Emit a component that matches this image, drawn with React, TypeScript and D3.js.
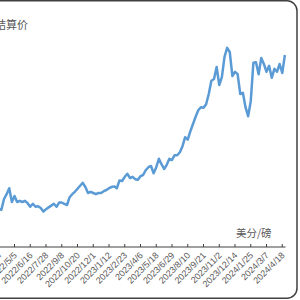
import * as d3 from 'd3';
import React, {useRef, useEffect} from 'react';

// weekly settlement prices (cents / lb)
const dates = [
  "2022-03-24","2022-03-31","2022-04-07","2022-04-14","2022-04-21","2022-04-28","2022-05-05","2022-05-12","2022-05-19","2022-05-26",
  "2022-06-02","2022-06-09","2022-06-16","2022-06-23","2022-06-30","2022-07-07","2022-07-14","2022-07-21","2022-07-28","2022-08-04",
  "2022-08-11","2022-08-18","2022-08-25","2022-09-01","2022-09-08","2022-09-15","2022-09-22","2022-09-29","2022-10-06","2022-10-13",
  "2022-10-20","2022-10-27","2022-11-03","2022-11-10","2022-11-17","2022-11-24","2022-12-01","2022-12-08","2022-12-15","2022-12-22",
  "2022-12-29","2023-01-05","2023-01-12","2023-01-19","2023-01-26","2023-02-02","2023-02-09","2023-02-16","2023-02-23","2023-03-02",
  "2023-03-09","2023-03-16","2023-03-23","2023-03-30","2023-04-06","2023-04-13","2023-04-20","2023-04-27","2023-05-04","2023-05-11",
  "2023-05-18","2023-05-25","2023-06-01","2023-06-08","2023-06-15","2023-06-22","2023-06-29","2023-07-06","2023-07-13","2023-07-20",
  "2023-07-27","2023-08-03","2023-08-10","2023-08-17","2023-08-24","2023-08-31","2023-09-07","2023-09-14","2023-09-21","2023-09-28",
  "2023-10-05","2023-10-12","2023-10-19","2023-10-26","2023-11-02","2023-11-09","2023-11-16","2023-11-23","2023-11-30","2023-12-07",
  "2023-12-14","2023-12-21","2023-12-28","2024-01-04","2024-01-11","2024-01-18","2024-01-25","2024-02-01","2024-02-08","2024-02-15",
  "2024-02-22","2024-02-29","2024-03-07","2024-03-14","2024-03-21","2024-03-28","2024-04-04","2024-04-11","2024-04-18","2024-04-25"
];

const prices = [
  163, 162, 180, 188, 198, 175, 185, 175, 177, 175,
  177, 173, 167, 172, 167, 168, 165, 159, 163, 166,
  169, 172, 167, 174, 174, 172, 170, 183, 188, 192,
  197, 202, 207, 200, 190, 192, 190, 188, 190, 190,
  193, 195, 198, 200, 201, 198, 211, 210, 217, 222,
  215, 217, 213, 212, 218, 220, 228, 233, 235, 223,
  233, 247, 238, 230, 237, 247, 245, 253, 253, 258,
  268, 283, 279, 293, 305, 317, 328, 333, 332, 338,
  355, 377, 380, 400, 370, 383, 417, 432, 425, 385,
  392, 388, 355, 357, 333, 318, 343, 407, 408, 388,
  415, 405, 392, 402, 382, 397, 392, 405, 390, 420
];

const tickDates = [
  "2022-03-24","2022-05-05","2022-06-16","2022-07-28","2022-09-08","2022-10-20","2022-12-01",
  "2023-01-12","2023-02-23","2023-04-06","2023-05-18","2023-06-29","2023-08-10","2023-09-21",
  "2023-11-02","2023-12-14","2024-01-25","2024-03-07","2024-04-18"
];
const tickLabels = [
  "2022/3/24","2022/5/5","2022/6/16","2022/7/28","2022/9/8","2022/10/20","2022/12/1",
  "2023/1/12","2023/2/23","2023/4/6","2023/5/18","2023/6/29","2023/8/10","2023/9/21",
  "2023/11/2","2023/12/14","2024/1/25","2024/3/7","2024/4/18"
];

const titleText = "结算价";
const unitText = "美分/磅";

const W = 300;
const H = 300;

export default function App() {
  const ref = useRef<SVGSVGElement>(null);

  useEffect(() => {
    const svg = d3.select(ref.current);
    svg.selectAll("*").remove();

    const parse = d3.timeParse("%Y-%m-%d");
    const data = dates.map((d, i) => ({date: parse(d) as Date, value: prices[i]}));

    const x = d3.scaleTime()
      .domain([parse("2022-05-05") as Date, parse("2024-04-18") as Date])
      .range([14.5, 282.25]);
    const y = d3.scaleLinear().domain([100, 500]).range([247, 7]);

    // chart area frame (left side is cropped off)
    svg.append("rect")
      .attr("x", -20).attr("y", 0.75)
      .attr("width", 317).attr("height", 297.5)
      .attr("rx", 10)
      .attr("fill", "#fff")
      .attr("stroke", "#404040")
      .attr("stroke-width", 1.5);

    svg.append("text")
      .attr("x", -5).attr("y", 29)
      .attr("font-family", "'Noto Sans CJK SC', sans-serif")
      .attr("font-size", 11)
      .attr("fill", "#595959")
      .text(titleText);

    // category axis
    const axisY = 247;
    svg.append("line")
      .attr("x1", 0).attr("x2", 285.5)
      .attr("y1", axisY).attr("y2", axisY)
      .attr("stroke", "#404040").attr("stroke-width", 1);

    const ticks = tickDates.map((d, i) => ({date: parse(d) as Date, label: tickLabels[i]}));

    svg.selectAll("line.tick")
      .data(ticks)
      .enter()
      .append("line")
      .attr("class", "tick")
      .attr("x1", d => x(d.date)).attr("x2", d => x(d.date))
      .attr("y1", axisY - 3).attr("y2", axisY)
      .attr("stroke", "#404040").attr("stroke-width", 1);

    svg.selectAll("text.tl")
      .data(ticks)
      .enter()
      .append("text")
      .attr("class", "tl")
      .attr("transform", d => `translate(${x(d.date) + 3},${axisY + 9}) rotate(-45)`)
      .attr("text-anchor", "end")
      .attr("font-family", "'Liberation Sans', Arial, sans-serif")
      .attr("font-size", 9)
      .attr("fill", "#595959")
      .text(d => d.label);

    svg.append("text")
      .attr("x", 236).attr("y", 237)
      .attr("font-family", "'Noto Sans CJK SC', sans-serif")
      .attr("font-size", 10.5)
      .attr("fill", "#595959")
      .text(unitText);

    const line = d3.line<{date: Date, value: number}>()
      .x(d => x(d.date))
      .y(d => y(d.value));

    svg.append("path")
      .datum(data)
      .attr("d", line)
      .attr("fill", "none")
      .attr("stroke", "#5B9BD5")
      .attr("stroke-width", 2.5)
      .attr("stroke-linejoin", "round");
  }, []);

  return (
    <svg ref={ref} width={W} height={H}
         style={{position: "absolute", left: 0, top: 0, display: "block"}}>
    </svg>
  );
}
